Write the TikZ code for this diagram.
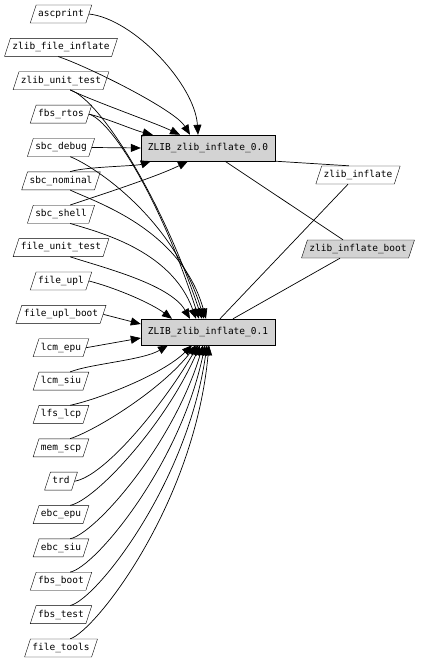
\documentclass[tikz,border=0pt]{standalone}
\usepackage{fontspec}
\setmonofont{DejaVu Sans Mono}
\usetikzlibrary{shapes.geometric, arrows.meta, positioning}
\definecolor{pkggray}{HTML}{D3D3D3}
\tikzstyle{module} = [trapezium, trapezium left angle=72, trapezium right angle=108, draw=black, text height=7pt, text depth=2.2pt, inner xsep=2pt, inner ysep=4.4pt, font=\ttfamily\fontsize{9.5}{11}\selectfont]
\tikzstyle{bootmodule} = [module, fill=pkggray]
\tikzstyle{package} = [rectangle, draw=black, fill=pkggray, minimum width=134pt, minimum height=26pt, inner xsep=2pt, font=\ttfamily\fontsize{9.5}{11}\selectfont]
\tikzstyle{arrow} = [line width=0.7pt, -{Triangle[length=10pt,width=8pt]}]
\tikzstyle{link} = [line width=0.7pt]

\begin{document}
\begin{tikzpicture}[x=1pt, y=-1pt, node distance=33.37pt]
\useasboundingbox (0,0) rectangle (421,662);

\node (ascprint) [module] at (61,14) {ascprint};
\node (zfileinflate) [module, below of=ascprint] {zlib\_file\_inflate};
\node (zunittest) [module, below of=zfileinflate] {zlib\_unit\_test};
\node (fbsrtos) [module, below of=zunittest] {fbs\_rtos};
\node (sbcdebug) [module, below of=fbsrtos] {sbc\_debug};
\node (sbcnominal) [module, below of=sbcdebug] {sbc\_nominal};
\node (sbcshell) [module, below of=sbcnominal] {sbc\_shell};
\node (fileunittest) [module, below of=sbcshell] {file\_unit\_test};
\node (fileupl) [module, below of=fileunittest] {file\_upl};
\node (fileuplboot) [module, below of=fileupl] {file\_upl\_boot};
\node (lcmepu) [module, below of=fileuplboot] {lcm\_epu};
\node (lcmsiu) [module, below of=lcmepu] {lcm\_siu};
\node (lfslcp) [module, below of=lcmsiu] {lfs\_lcp};
\node (memscp) [module, below of=lfslcp] {mem\_scp};
\node (trd) [module, below of=memscp] {trd};
\node (ebcepu) [module, below of=trd] {ebc\_epu};
\node (ebcsiu) [module, below of=ebcepu] {ebc\_siu};
\node (fbsboot) [module, below of=ebcsiu] {fbs\_boot};
\node (fbstest) [module, below of=fbsboot] {fbs\_test};
\node (filetools) [module, below of=fbstest] {file\_tools};

\node (pkg0) [package] at (208,148) {ZLIB\_zlib\_inflate\_0.0};
\node (pkg1) [package] at (208,332) {ZLIB\_zlib\_inflate\_0.1};
\node (zinflate) [module] at (358,175) {zlib\_inflate};
\node (zinflateboot) [bootmodule] at (358,249) {zlib\_inflate\_boot};

% users of 0.0
\draw [arrow] (ascprint.east) .. controls +(45,5) and +(-3,-50) .. ([xshift=-10pt]pkg0.north);
\draw [arrow] ([xshift=-12pt]zfileinflate.south east) .. controls +(30,10) and +(-15,-25) .. ([xshift=-18pt]pkg0.north);
\draw [arrow] (zunittest.south east) .. controls +(25,12) and +(-25,-12) .. ([xshift=-28pt]pkg0.north);
\draw [arrow] (fbsrtos.east) .. controls +(20,5) and +(-20,-5) .. ([xshift=12pt]pkg0.north west);
\draw [arrow] (sbcdebug.east) -- (pkg0.west);
\draw [arrow] (sbcnominal.north east) .. controls +(15,-5) and +(-15,5) .. ([xshift=10pt]pkg0.south west);
\draw [arrow] (sbcshell.north east) .. controls +(30,-10) and +(-30,15) .. ([xshift=-20pt]pkg0.south);

% users of 0.1
\draw [arrow] (zunittest.south east) .. controls +(30,10) and +(-40,-120) .. ([xshift=-6pt]pkg1.north);
\draw [arrow] (fbsrtos.east) .. controls +(25,8) and +(-35,-110) .. ([xshift=-9pt]pkg1.north);
\draw [arrow] (sbcdebug.south east) .. controls +(25,10) and +(-30,-100) .. ([xshift=-4pt]pkg1.north);
\draw [arrow] (sbcnominal.south east) .. controls +(25,12) and +(-25,-90) .. ([xshift=-2pt]pkg1.north);
\draw [arrow] (sbcshell.south east) .. controls +(25,8) and +(-25,-70) .. ([xshift=-12pt]pkg1.north);
\draw [arrow] (fileunittest.south east) .. controls +(30,10) and +(-20,-35) .. ([xshift=-18pt]pkg1.north);
\draw [arrow] (fileupl.east) .. controls +(30,8) and +(-20,-15) .. ([xshift=-36pt]pkg1.north);
\draw [arrow] (fileuplboot.east) -- ([yshift=8pt]pkg1.west);
\draw [arrow] (lcmepu.east) -- ([yshift=-6pt]pkg1.west);
\draw [arrow] (lcmsiu.north east) .. controls +(20,-8) and +(-25,15) .. ([xshift=-40pt]pkg1.south);
\draw [arrow] (lfslcp.north east) .. controls +(25,-5) and +(-30,30) .. ([xshift=-16pt]pkg1.south);
\draw [arrow] (memscp.north east) .. controls +(25,-8) and +(-35,45) .. ([xshift=-12pt]pkg1.south);
\draw [arrow] (trd.east) .. controls +(30,-5) and +(-35,60) .. ([xshift=-10pt]pkg1.south);
\draw [arrow] (ebcepu.north east) .. controls +(25,-5) and +(-35,80) .. ([xshift=-8pt]pkg1.south);
\draw [arrow] (ebcsiu.north east) .. controls +(25,-5) and +(-30,100) .. ([xshift=-5pt]pkg1.south);
\draw [arrow] (fbsboot.north east) .. controls +(25,-5) and +(-25,120) .. ([xshift=-3pt]pkg1.south);
\draw [arrow] (fbstest.north east) .. controls +(25,-5) and +(-20,140) .. ([xshift=-1pt]pkg1.south);
\draw [arrow] (filetools.north east) .. controls +(25,-8) and +(-15,160) .. ([xshift=1pt]pkg1.south);

% packages to modules
\draw [link] (pkg0.south east) -- (zinflate.north west);
\draw [link] ([xshift=17pt]pkg0.south) -- ([xshift=-15pt]zinflateboot.north);
\draw [link] ([xshift=12pt]pkg1.north) -- ([xshift=-10pt]zinflate.south);
\draw [link] ([xshift=25pt]pkg1.north) -- ([xshift=-18pt]zinflateboot.south);

\end{tikzpicture}
\end{document}
